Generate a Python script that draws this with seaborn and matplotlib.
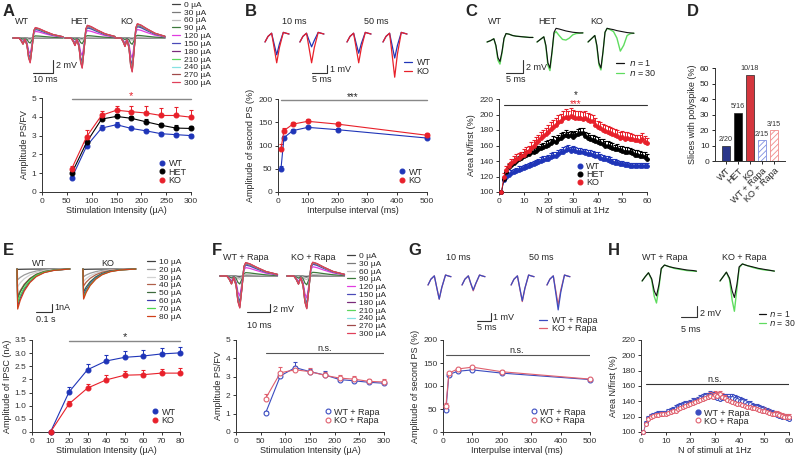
import matplotlib
matplotlib.use("Agg")
import matplotlib.pyplot as plt
from matplotlib.lines import Line2D
import seaborn as sns
import numpy as np

sns.set_style("ticks")
plt.rcParams["font.family"] = ["Liberation Sans", "DejaVu Sans"]
plt.rcParams["font.size"] = 6
plt.rcParams["axes.linewidth"] = 0.7
plt.rcParams["axes.edgecolor"] = "#333333"
plt.rcParams["xtick.major.size"] = 2.5
plt.rcParams["ytick.major.size"] = 2.5
plt.rcParams["xtick.major.width"] = 0.7
plt.rcParams["ytick.major.width"] = 0.7
plt.rcParams["xtick.major.pad"] = 1.5
plt.rcParams["ytick.major.pad"] = 1.5
plt.rcParams["xtick.labelsize"] = 6
plt.rcParams["ytick.labelsize"] = 6
plt.rcParams["axes.labelsize"] = 6.5
plt.rcParams["hatch.linewidth"] = 0.6

# ---------------- data ----------------
WT_C, HET_C, KO_C = "#1f35b8", "#000000", "#e8202a"
WTR_C, KOR_C = "#3b4cc0", "#e0606e"

# A: input/output
a_x = [60, 90, 120, 150, 180, 210, 240, 270, 300]
a_wt = [0.75, 2.45, 3.4, 3.58, 3.38, 3.25, 3.1, 3.05, 3.0]
a_wt_err = [0.08, 0.12, 0.15, 0.12, 0.1, 0.1, 0.1, 0.1, 0.1]
a_het = [1.0, 2.65, 3.88, 4.02, 3.92, 3.73, 3.55, 3.4, 3.38]
a_het_err = [0.1, 0.12, 0.12, 0.12, 0.12, 0.14, 0.12, 0.14, 0.14]
a_ko = [1.25, 2.95, 4.08, 4.35, 4.27, 4.2, 4.07, 4.07, 3.98]
a_ko_err = [0.15, 0.33, 0.22, 0.23, 0.33, 0.4, 0.38, 0.43, 0.4]

# B: paired pulse
b_x = [10, 20, 50, 100, 200, 500]
b_wt = [50, 117, 132, 139, 134, 116]
b_wt_err = [5, 4, 3, 3, 3, 3]
b_ko = [93, 132, 146, 152, 146, 122]
b_ko_err = [10, 5, 4, 5, 5, 4]

# C: 1 Hz train
c_x = list(range(1, 61))
c_wt = [100, 115, 119, 122, 124, 126, 127, 129, 130, 131,
        132, 134, 135, 136, 137, 139, 140, 141, 142, 143,
        145, 146, 147, 149, 151, 152, 154, 155, 153, 154,
        153, 152, 152, 151, 150, 149, 149, 148, 147, 146,
        144, 143, 142, 141, 140, 139, 138, 137, 136, 136,
        135, 135, 134, 134, 133, 134, 133, 134, 133, 133]
c_het = [100, 117, 126, 132, 135, 138, 140, 142, 144, 146,
         148, 149, 151, 152, 153, 155, 157, 158, 160, 161,
         163, 166, 165, 168, 170, 172, 174, 172, 173, 171,
         173, 175, 176, 176, 172, 170, 168, 167, 166, 165,
         163, 162, 160, 160, 158, 157, 155, 156, 154, 153,
         152, 152, 151, 150, 148, 148, 147, 146, 145, 143]
c_ko = [100, 120, 128, 133, 137, 140, 143, 144, 146, 148,
        151, 153, 157, 160, 163, 166, 170, 172, 175, 178,
        181, 184, 187, 190, 192, 195, 197, 196, 198, 197,
        196, 195, 196, 194, 195, 193, 192, 191, 187, 184,
        182, 180, 179, 177, 176, 175, 173, 172, 170, 171,
        169, 170, 168, 168, 167, 167, 166, 168, 165, 163]
c_wt_err = [0, 3, 3, 3, 4, 4, 4, 4, 4, 4,
            4, 4, 4, 4, 4, 4, 5, 5, 5, 5,
            5, 5, 5, 5, 5, 6, 6, 6, 5, 5,
            5, 5, 5, 5, 5, 5, 5, 5, 5, 5,
            5, 5, 5, 5, 5, 4, 4, 4, 4, 4,
            4, 4, 4, 4, 4, 4, 4, 4, 4, 4]
c_het_err = [0, 3, 3, 4, 4, 4, 4, 4, 5, 5,
             5, 5, 5, 5, 5, 5, 5, 5, 6, 6,
             6, 6, 6, 6, 6, 6, 6, 6, 6, 6,
             6, 6, 6, 6, 6, 6, 6, 6, 6, 6,
             6, 6, 6, 6, 6, 6, 6, 6, 6, 6,
             6, 6, 6, 6, 6, 6, 6, 6, 6, 6]
c_ko_err = [0, 4, 5, 5, 5, 6, 6, 6, 6, 7,
            7, 7, 7, 7, 8, 8, 8, 8, 8, 8,
            9, 9, 9, 9, 9, 9, 10, 9, 10, 9,
            9, 9, 9, 9, 9, 9, 9, 8, 8, 8,
            8, 8, 8, 8, 8, 8, 8, 8, 8, 8,
            8, 8, 8, 7, 7, 7, 7, 8, 7, 7]

# D: polyspike fraction
d_groups = ["WT", "HET", "KO", "WT + Rapa", "KO + Rapa"]
d_values = [10.0, 31.25, 55.6, 13.3, 20.0]
d_counts = ["2/20", "5/16", "10/18", "2/15", "3/15"]
d_colors = ["#1a2a9a", "#000000", "#ee1c25", "#7f8fe0", "#f08a8a"]

# E: IPSC input/output
e_x = [10, 20, 30, 40, 50, 60, 70, 80]
e_wt = [0, 1.52, 2.37, 2.70, 2.84, 2.89, 2.97, 3.01]
e_wt_err = [0, 0.18, 0.23, 0.23, 0.23, 0.22, 0.22, 0.23]
e_ko = [0, 1.07, 1.67, 1.98, 2.16, 2.18, 2.24, 2.24]
e_ko_err = [0, 0.1, 0.15, 0.17, 0.16, 0.17, 0.17, 0.18]

# F: input/output with rapamycin
f_x = [60, 90, 120, 150, 180, 210, 240, 270, 300]
f_wt = [1.03, 3.05, 3.5, 3.28, 3.1, 2.85, 2.78, 2.7, 2.65]
f_wt_err = [0.1, 0.2, 0.3, 0.15, 0.2, 0.12, 0.15, 0.12, 0.12]
f_ko = [1.82, 3.22, 3.38, 3.28, 3.08, 2.93, 2.87, 2.75, 2.72]
f_ko_err = [0.25, 0.3, 0.2, 0.2, 0.2, 0.15, 0.18, 0.15, 0.15]

# G: paired pulse with rapamycin
g_x = [10, 20, 50, 100, 200, 500]
g_wt = [48, 125, 132, 135, 128, 114]
g_wt_err = [4, 3, 3, 3, 3, 3]
g_ko = [57, 128, 137, 141, 131, 115]
g_ko_err = [5, 3, 3, 3, 3, 3]

# H: 1 Hz train with rapamycin
h_x = list(range(1, 61))
h_wt = [100, 112, 118, 121, 122, 123, 124, 124, 125, 125,
        127, 128, 129, 131, 133, 134, 135, 136, 137, 138,
        140, 141, 142, 144, 145, 147, 146, 148, 147, 146,
        144, 143, 144, 145, 145, 144, 144, 143, 142, 141,
        140, 139, 137, 136, 134, 133, 132, 131, 130, 128,
        127, 126, 125, 123, 122, 121, 120, 119, 118, 117]
h_ko = [100, 110, 117, 120, 121, 122, 122, 123, 123, 124,
        125, 126, 127, 128, 130, 131, 132, 134, 135, 137,
        138, 139, 141, 142, 143, 144, 146, 147, 146, 148,
        147, 149, 146, 144, 142, 140, 139, 138, 137, 136,
        135, 134, 133, 132, 131, 131, 130, 129, 128, 127,
        126, 125, 124, 124, 123, 122, 121, 120, 120, 119]
h_wt_err = [0, 3, 3, 3, 3, 3, 3, 3, 3, 3,
            3, 3, 4, 4, 4, 4, 4, 4, 4, 4,
            4, 4, 4, 4, 4, 4, 5, 5, 5, 5,
            5, 5, 5, 5, 5, 5, 5, 5, 5, 5,
            4, 4, 4, 4, 4, 4, 4, 4, 4, 4,
            4, 4, 4, 4, 4, 4, 4, 4, 4, 4]
h_ko_err = [0, 3, 3, 3, 3, 3, 3, 3, 3, 3,
            3, 3, 3, 3, 4, 4, 4, 4, 4, 4,
            4, 4, 4, 4, 4, 4, 4, 5, 5, 5,
            5, 5, 5, 4, 4, 4, 4, 4, 4, 4,
            4, 4, 4, 4, 4, 4, 4, 4, 4, 4,
            4, 4, 4, 4, 4, 4, 4, 4, 4, 4]

# ---- example traces ----
stim_labels = ["0 µA", "30 µA", "60 µA", "90 µA", "120 µA", "150 µA",
               "180 µA", "210 µA", "240 µA", "270 µA", "300 µA"]
stim_colors = ["#404040", "#7a7a7a", "#bdbdbd", "#3d7a3d", "#e03ce0", "#4a4ab8",
               "#7a2a7a", "#5cd65c", "#86e2e2", "#a04a4a", "#e0405a"]
# field potential shape (ms, normalised)
fp_t = [0, 3, 4, 5, 6, 7, 7.8, 8.6, 9.6, 10.4, 11.2, 13, 16, 20, 25]
fp_shape = [0, 0, -0.1, -0.25, -0.05, -0.3, -0.8, -1.0, -0.35, 0.3, 0.42, 0.38, 0.27, 0.14, 0.05]
a_amp_wt = [0.05, 0.15, 0.3, 0.8, 2.5, 3.2, 3.6, 3.7, 3.8, 3.85, 3.95]
a_amp_het = [0.05, 0.15, 0.3, 0.9, 2.8, 3.8, 4.3, 4.5, 4.6, 4.7, 4.8]
a_amp_ko = [0.05, 0.15, 0.35, 1.0, 3.2, 4.3, 4.8, 5.0, 5.2, 5.3, 5.4]
f_amp_wt = [0.1, 0.3, 0.8, 2.0, 5.0, 6.5, 7.3, 7.6, 7.8, 7.9, 8.0]
f_amp_ko = [0.1, 0.3, 0.9, 2.2, 5.5, 7.0, 7.6, 7.9, 8.0, 8.1, 8.2]

# paired-pulse response shape (ms, mV)
pp_t = [0, 1, 2.2, 3.1, 3.9, 4.8, 6.1, 7, 8]
pp_base = [0, 0.7, 1.1, 0.6, 0.3, 0.6, 1.2, 1.1, 1.0]
pp_dip = [0, 0, 0, -0.5, -1, -0.45, 0, 0, 0]
b_amp_wt = [1.9, 0.9, 1.7, 2.3]
b_amp_ko = [2.9, 2.9, 2.9, 4.7]
g_amp_wt = [2.0, 0.9, 2.2, 3.3]
g_amp_ko = [2.0, 1.0, 2.3, 2.7]

# single responses, n = 1 and n = 30 (ms, mV)
c_tr_t = [0, 1, 2, 2.6, 3.2, 3.8, 4.4, 5.0, 5.6, 6.5, 7.5, 8.5, 9.5, 10.5, 11.5, 12.5, 13.5]
c_tr_wt1 = [0, 0.2, 0.5, -0.5, -2.4, -3.0, -1.5, 0.6, 1.3, 1.2, 1.0, 0.9, 0.85, 0.8, 0.75, 0.7, 0.7]
c_tr_wt30 = [0, 0.2, 0.5, -0.6, -2.8, -3.4, -1.7, 0.5, 1.3, 1.2, 1.0, 0.9, 0.85, 0.8, 0.75, 0.7, 0.7]
c_tr_het1 = [0, 0.4, 0.8, -0.5, -3.2, -4.0, -1.5, 1.5, 2.1, 2.0, 1.85, 1.7, 1.6, 1.5, 1.45, 1.4, 1.4]
c_tr_het30 = [0, 0.4, 0.8, -0.7, -3.6, -4.4, -1.7, 1.3, 1.6, 1.0, 0.4, 0.3, 0.6, 1.1, 1.3, 1.35, 1.4]
c_tr_ko1 = [0, 0.5, 1.0, -0.5, -3.2, -4.0, -1.5, 1.5, 2.1, 2.0, 1.9, 1.75, 1.65, 1.55, 1.45, 1.4, 1.35]
c_tr_ko30 = [0, 0.5, 1.0, -0.7, -3.5, -4.3, -1.6, 1.5, 2.1, 1.9, 1.6, 0.6, -1.4, -0.5, 1.0, 1.3, 1.35]

h_tr_t = [0, 1, 2, 3, 3.8, 4.5, 5.3, 6, 7, 8.5, 10, 12, 14, 16, 17]
h_tr_wt1 = [0, 0.8, 1.5, 0.4, -1.8, -2.7, -0.6, 2.3, 2.9, 2.6, 2.4, 2.2, 2.0, 1.9, 1.8]
h_tr_wt30 = [0, 0.8, 1.5, 0.2, -2.8, -4.0, -1.0, 2.2, 2.9, 2.6, 2.3, 2.1, 1.9, 1.8, 1.75]
h_tr_ko1 = [0, 0.8, 1.6, 0.5, -1.8, -3.0, -0.6, 2.6, 3.1, 2.8, 2.6, 2.3, 2.1, 1.9, 1.8]
h_tr_ko30 = [0, 0.8, 1.6, 0.2, -3.5, -5.5, -1.3, 2.4, 3.1, 2.8, 2.5, 2.2, 2.0, 1.9, 1.8]

# IPSC traces (s, normalised)
ipsc_labels = ["10 µA", "20 µA", "30 µA", "40 µA", "50 µA", "60 µA", "70 µA", "80 µA"]
ipsc_colors = ["#404040", "#9a9a9a", "#d2d2d2", "#b0604a", "#3d6b3d", "#3a3ab0", "#4ed64e", "#d0401a"]
ipsc_t = [0, 0.004, 0.02, 0.045, 0.08, 0.12, 0.17, 0.23, 0.3, 0.33]
ipsc_shape = [0, -1, -0.78, -0.55, -0.34, -0.19, -0.09, -0.035, -0.01, 0]
e_amp_wt = [0.05, 1.4, 2.3, 3.6, 3.8, 4.8, 4.4, 5.2]
e_amp_ko = [0.05, 1.0, 1.6, 2.2, 3.0, 3.4, 3.7, 3.9]

N1_C, N30_C = "#111111", "#5fdc5f"

# ---------------- figure ----------------
W, H = 797, 455
fig = plt.figure(figsize=(W / 100, H / 100), dpi=100)


def fx(x):
    return x / W


def fy(y):
    return 1 - y / H


def box(l, t, r, b):
    return fig.add_axes([fx(l), fy(b), (r - l) / W, (b - t) / H])


def ftext(x, y, s, **kw):
    kw.setdefault("fontsize", 6.5)
    kw.setdefault("va", "center")
    fig.text(fx(x), fy(y), s, **kw)


def trace_ax(l, t, r, b, px_x, px_y, base):
    ax = box(l, t, r, b)
    ax.set_xlim(0, (r - l) / px_x)
    ax.set_ylim(-(b - base) / px_y, (base - t) / px_y)
    ax.axis("off")
    return ax


def scalebar(ax, x_end, y_bot, dx, dy):
    ax.plot([x_end - dx, x_end, x_end], [y_bot, y_bot, y_bot + dy], color="#333333", lw=0.8)


def style_plot(ax, xlim, ylim, xticks, yticks, xlabel, ylabel):
    ax.set_xlim(*xlim)
    ax.set_ylim(*ylim)
    ax.set_xticks(xticks)
    ax.set_yticks(yticks)
    ax.set_xlabel(xlabel, labelpad=1)
    ax.set_ylabel(ylabel, labelpad=2)
    sns.despine(ax=ax)
    ax.tick_params(colors="#333333")


def series(ax, x, y, err, color, open_marker=False, ms=3.5, lw=0.8):
    lower = np.zeros(len(err))
    ax.errorbar(x, y, yerr=[lower, err], fmt="-o", color=color, ms=ms, lw=lw,
                mfc="white" if open_marker else color, mec=color, mew=0.8,
                capsize=1.5, elinewidth=0.7, capthick=0.7, clip_on=False, zorder=3)


def dot_legend(ax, labels, colors, open_marker=False, **kw):
    handles = [Line2D([], [], ls="none", marker="o", ms=3.5, color=c,
                      mfc="white" if open_marker else c, mec=c, mew=0.8) for c in colors]
    ax.legend(handles, labels, frameon=False, fontsize=6.5, handlelength=0.8,
              handletextpad=0.3, labelspacing=-0.1, borderpad=0, **kw)


def line_legend(ax, handles, labels, x, y, fs=6, spacing=0.0):
    ax.legend(handles, labels, loc="upper left", bbox_to_anchor=(fx(x), fy(y)),
              bbox_transform=fig.transFigure, frameon=False, fontsize=fs,
              handlelength=0.9, handletextpad=0.5, labelspacing=spacing,
              borderpad=0, borderaxespad=0)


# panel letters
for letter, x, y in [("A", 3, 4), ("B", 245, 4), ("C", 465, 4), ("D", 687, 4),
                     ("E", 3, 243), ("F", 212, 243), ("G", 408, 243), ("H", 608, 243)]:
    fig.text(fx(x), fy(y), letter, fontsize=12, fontweight="bold", va="top", ha="left")

# ---- A traces
ax = trace_ax(10, 14, 172, 84, 2.0, 6.3, 38)
for start, amps in zip([1.5, 27.5, 52.5], [a_amp_wt, a_amp_het, a_amp_ko]):
    for amp, col, lab in zip(amps, stim_colors, stim_labels):
        ax.plot(np.array(fp_t) + start, np.array(fp_shape) * amp, color=col, lw=0.9, label=lab)
scalebar(ax, 21.5, -5.56, 10, 2)
line_legend(ax, ax.get_lines()[:11], stim_labels, 172, 1)
ftext(15, 22, "WT")
ftext(70, 22, "HET")
ftext(120, 22, "KO")
ftext(56, 66, "2 mV")
ftext(33, 80, "10 ms")

# ---- A plot
ax = box(42, 98, 191, 192)
series(ax, a_x, a_wt, a_wt_err, WT_C)
series(ax, a_x, a_het, a_het_err, HET_C)
series(ax, a_x, a_ko, a_ko_err, KO_C)
ax.plot([60, 300], [4.93, 4.93], color="#888888", lw=1, clip_on=False)
ax.text(180, 5.12, "*", color=KO_C, ha="center", va="center", fontsize=8, clip_on=False)
style_plot(ax, (0, 300), (0, 5), range(0, 301, 50), range(0, 6),
           "Stimulation Intensity (µA)", "Amplitude PS/FV")
dot_legend(ax, ["WT", "HET", "KO"], [WT_C, HET_C, KO_C], loc="lower right",
           bbox_to_anchor=(1.0, 0.03))

# ---- B traces
ax = trace_ax(260, 25, 420, 85, 3.0, 8.0, 42)
for start, aw, ak in zip([1.67, 13.3, 29, 41], b_amp_wt, b_amp_ko):
    t = np.array(pp_t) + start
    ax.plot(t, np.array(pp_base) + aw * np.array(pp_dip), color=WT_C, lw=0.9)
    ax.plot(t, np.array(pp_base) + ak * np.array(pp_dip), color=KO_C, lw=0.9)
scalebar(ax, 22.3, -3.875, 5, 1)
ftext(294, 22, "10 ms", ha="center")
ftext(376, 22, "50 ms", ha="center")
ftext(330, 69, "1 mV")
ftext(312, 80, "5 ms")
line_legend(ax, [Line2D([], [], color=WT_C, lw=0.9), Line2D([], [], color=KO_C, lw=0.9)],
            ["WT", "KO"], 404, 58, fs=6.5, spacing=0)

# ---- B plot
ax = box(278, 99, 427, 192)
series(ax, b_x, b_wt, b_wt_err, WT_C)
series(ax, b_x, b_ko, b_ko_err, KO_C)
ax.plot([10, 500], [198, 198], color="#888888", lw=1, clip_on=False)
ax.text(250, 205, "***", ha="center", va="center", fontsize=7, clip_on=False)
style_plot(ax, (0, 500), (0, 200), range(0, 501, 100), range(0, 201, 50),
           "Interpulse interval (ms)", "Amplitude of second PS (%)")
dot_legend(ax, ["WT", "KO"], [WT_C, KO_C], loc="lower right", bbox_to_anchor=(1.0, 0.03))

# ---- C traces
ax = trace_ax(485, 25, 645, 85, 3.4, 6.5, 42)
for start, tr1, tr30 in zip([0.6, 15.3, 30.3], [c_tr_wt1, c_tr_het1, c_tr_ko1],
                            [c_tr_wt30, c_tr_het30, c_tr_ko30]):
    t = np.array(c_tr_t) + start
    ax.plot(t, tr30, color=N30_C, lw=1.0)
    ax.plot(t, tr1, color=N1_C, lw=0.8)
scalebar(ax, 11.2, -4.77, 5, 2)
ftext(488, 22, "WT")
ftext(538, 22, "HET")
ftext(590, 22, "KO")
ftext(526, 67, "2 mV")
ftext(506, 80, "5 ms")
line_legend(ax, [Line2D([], [], color=N1_C, lw=0.9), Line2D([], [], color=N30_C, lw=0.9)],
            ["$n$ = 1", "$n$ = 30"], 616, 58, fs=6.5, spacing=0)

# ---- C plot
ax = box(499, 99, 647, 192)
series(ax, c_x, c_wt, c_wt_err, WT_C, ms=2.6, lw=0.6)
series(ax, c_x, c_het, c_het_err, HET_C, ms=2.6, lw=0.6)
series(ax, c_x, c_ko, c_ko_err, KO_C, ms=2.6, lw=0.6)
ax.plot([2, 60], [212, 212], color="#333333", lw=0.8, clip_on=False)
ax.text(31, 214, "***", color=KO_C, ha="center", va="center", fontsize=7, clip_on=False)
ax.text(31, 225, "*", ha="center", va="center", fontsize=7, clip_on=False)
style_plot(ax, (0, 60), (100, 220), range(0, 61, 10), range(100, 221, 20),
           "N of stimuli at 1Hz", "Area N/first (%)")
dot_legend(ax, ["WT", "HET", "KO"], [WT_C, HET_C, KO_C], loc="lower left",
           bbox_to_anchor=(0.49, 0.0))

# ---- D bars
ax = box(715, 68, 785, 161)
sns.barplot(x=d_groups, y=d_values, hue=d_groups, palette=d_colors, legend=False,
            width=0.68, dodge=False, ax=ax)
for i, p in enumerate(ax.patches):
    p.set_width(0.66)
    p.set_x(i - 0.33)
    if i >= 3:
        p.set_facecolor("white")
        p.set_edgecolor(d_colors[i])
        p.set_hatch("//////")
        p.set_linewidth(0.6)
    else:
        p.set_edgecolor("#222222")
        p.set_linewidth(0.5)
for i, (v, lab) in enumerate(zip(d_values, d_counts)):
    ax.text(i, v + 1.5, lab, ha="center", va="bottom", fontsize=5.2, color="#333333")
ax.set_xlim(-0.9, 4.9)
ax.set_ylim(0, 60)
ax.set_yticks(range(0, 61, 10))
ax.set_xticks(range(len(d_groups)))
ax.set_xticklabels(d_groups, rotation=45, ha="right", rotation_mode="anchor", fontsize=6.5)
ax.set_ylabel("Slices with polyspike (%)", labelpad=2)
ax.set_xlabel("")
sns.despine(ax=ax)

# ---- E traces
ax = trace_ax(14, 260, 145, 325, 160, 7.7, 269)
for start, amps in zip([0.019, 0.431], [e_amp_wt, e_amp_ko]):
    for amp, col, lab in zip(amps, ipsc_colors, ipsc_labels):
        ax.plot(np.array(ipsc_t) + start, np.array(ipsc_shape) * amp, color=col, lw=0.9, label=lab)
scalebar(ax, 0.2375, -5.58, 0.1, 1)
line_legend(ax, ax.get_lines()[:8], ipsc_labels, 147, 258)
ftext(39, 263, "WT", ha="center")
ftext(108, 263, "KO", ha="center")
ftext(54, 307, "1nA")
ftext(36, 320, "0.1 s")

# ---- E plot
ax = box(32, 340, 180, 432)
series(ax, e_x, e_wt, e_wt_err, WT_C)
series(ax, e_x, e_ko, e_ko_err, KO_C)
ax.plot([20, 80], [3.45, 3.45], color="#888888", lw=1, clip_on=False)
ax.text(50, 3.62, "*", ha="center", va="center", fontsize=8, clip_on=False)
style_plot(ax, (0, 80), (0, 3.5), range(0, 81, 10), [0, 0.5, 1.0, 1.5, 2, 2.5, 3.0, 3.5],
           "Stimulation Intensity (µA)", "Amplitude of IPSC (nA)")
ax.set_yticklabels(["0", "0.5", "1.0", "1.5", "2", "2.5", "3.0", "3.5"])
dot_legend(ax, ["WT", "KO"], [WT_C, KO_C], loc="lower right", bbox_to_anchor=(1.0, 0.03))

# ---- F traces
ax = trace_ax(215, 258, 346, 330, 2.3, 4.0, 276)
for start, amps in zip([2.17, 31.3], [f_amp_wt, f_amp_ko]):
    for amp, col, lab in zip(amps, stim_colors, stim_labels):
        ax.plot(np.array(fp_t) + start, np.array(fp_shape) * amp, color=col, lw=0.9, label=lab)
scalebar(ax, 23.9, -9.0, 10, 2)
line_legend(ax, ax.get_lines()[:11], stim_labels, 347, 252)
ftext(246, 258, "WT + Rapa", ha="center")
ftext(313, 258, "KO + Rapa", ha="center")
ftext(273, 310, "2 mV")
ftext(247, 325, "10 ms")

# ---- F plot
ax = box(236, 340, 384, 432)
series(ax, f_x, f_wt, f_wt_err, WTR_C, open_marker=True)
series(ax, f_x, f_ko, f_ko_err, KOR_C, open_marker=True)
ax.plot([60, 300], [4.28, 4.28], color="#555555", lw=0.8)
ax.text(180, 4.55, "n.s.", ha="center", va="center", fontsize=6.5)
style_plot(ax, (0, 300), (0, 5), range(0, 301, 50), range(0, 6),
           "Stimulation Intensity (µA)", "Amplitude PS/FV")
dot_legend(ax, ["WT + Rapa", "KO + Rapa"], [WTR_C, KOR_C], open_marker=True,
           loc="lower right", bbox_to_anchor=(1.0, 0.03))

# ---- G traces
ax = trace_ax(425, 262, 580, 335, 2.87, 8.3, 285)
for start, aw, ak in zip([1.05, 12.9, 30, 42.5], g_amp_wt, g_amp_ko):
    t = np.array(pp_t) + start
    ax.plot(t, np.array(pp_base) + ak * np.array(pp_dip), color=KOR_C, lw=0.9)
    ax.plot(t, np.array(pp_base) + aw * np.array(pp_dip), color=WTR_C, lw=0.9)
scalebar(ax, 23.0, -4.34, 5, 1)
ftext(458, 258, "10 ms", ha="center")
ftext(541, 258, "50 ms", ha="center")
ftext(493, 317, "1 mV")
ftext(477, 328, "5 ms")
line_legend(ax, [Line2D([], [], color=WTR_C, lw=0.9), Line2D([], [], color=KOR_C, lw=0.9)],
            ["WT + Rapa", "KO + Rapa"], 539, 316, fs=6.5, spacing=-0.1)

# ---- G plot
ax = box(443, 340, 590, 432)
series(ax, g_x, g_wt, g_wt_err, WTR_C, open_marker=True)
series(ax, g_x, g_ko, g_ko_err, KOR_C, open_marker=True)
ax.plot([10, 500], [167, 167], color="#555555", lw=0.8)
ax.text(250, 178, "n.s.", ha="center", va="center", fontsize=6.5)
style_plot(ax, (0, 500), (0, 200), range(0, 501, 100), range(0, 201, 50),
           "Interpulse interval (ms)", "Amplitude of second PS (%)")
dot_legend(ax, ["WT + Rapa", "KO + Rapa"], [WTR_C, KOR_C], open_marker=True,
           loc="lower right", bbox_to_anchor=(1.0, 0.03))

# ---- H traces
ax = trace_ax(636, 258, 790, 335, 3.2, 5.5, 281)
for start, tr1, tr30 in zip([1.9, 26.25], [h_tr_wt1, h_tr_ko1], [h_tr_wt30, h_tr_ko30]):
    t = np.array(h_tr_t) + start
    ax.plot(t, tr30, color=N30_C, lw=1.0)
    ax.plot(t, tr1, color=N1_C, lw=0.8)
scalebar(ax, 19.06, -6.55, 5, 2)
ftext(642, 258, "WT + Rapa")
ftext(722, 258, "KO + Rapa")
ftext(700, 313, "2 mV")
ftext(681, 329, "5 ms")
ax.legend([Line2D([], [], color=N1_C, lw=0.9), Line2D([], [], color=N30_C, lw=0.9)],
          ["$n$ = 1", "$n$ = 30"], loc="upper right", bbox_to_anchor=(fx(796), fy(309)),
          bbox_transform=fig.transFigure, frameon=False, fontsize=6.2,
          handlelength=0.8, handletextpad=0.4, labelspacing=-0.1,
          borderpad=0, borderaxespad=0)

# ---- H plot
ax = box(641, 340, 789, 432)
series(ax, h_x, h_wt, h_wt_err, WTR_C, open_marker=True, ms=2.8, lw=0.5)
series(ax, h_x, h_ko, h_ko_err, KOR_C, open_marker=True, ms=2.8, lw=0.5)
ax.plot([2, 60], [162, 162], color="#333333", lw=0.8)
ax.text(30, 169, "n.s.", ha="center", va="center", fontsize=6.5)
style_plot(ax, (0, 60), (100, 220), range(0, 61, 10), range(100, 221, 20),
           "N of stimuli at 1Hz", "Area N/first (%)")
handles = [Line2D([], [], ls="none", marker="o", ms=3.5, color=WTR_C),
           Line2D([], [], ls="none", marker="o", ms=3.5, color=KOR_C, mfc="white", mew=0.8)]
ax.legend(handles, ["WT + Rapa", "KO + Rapa"], frameon=False, fontsize=6.5, handlelength=0.8,
          handletextpad=0.3, labelspacing=-0.1, borderpad=0, loc="lower left",
          bbox_to_anchor=(0.33, 0.02))

fig.savefig("out.png", dpi=100)
